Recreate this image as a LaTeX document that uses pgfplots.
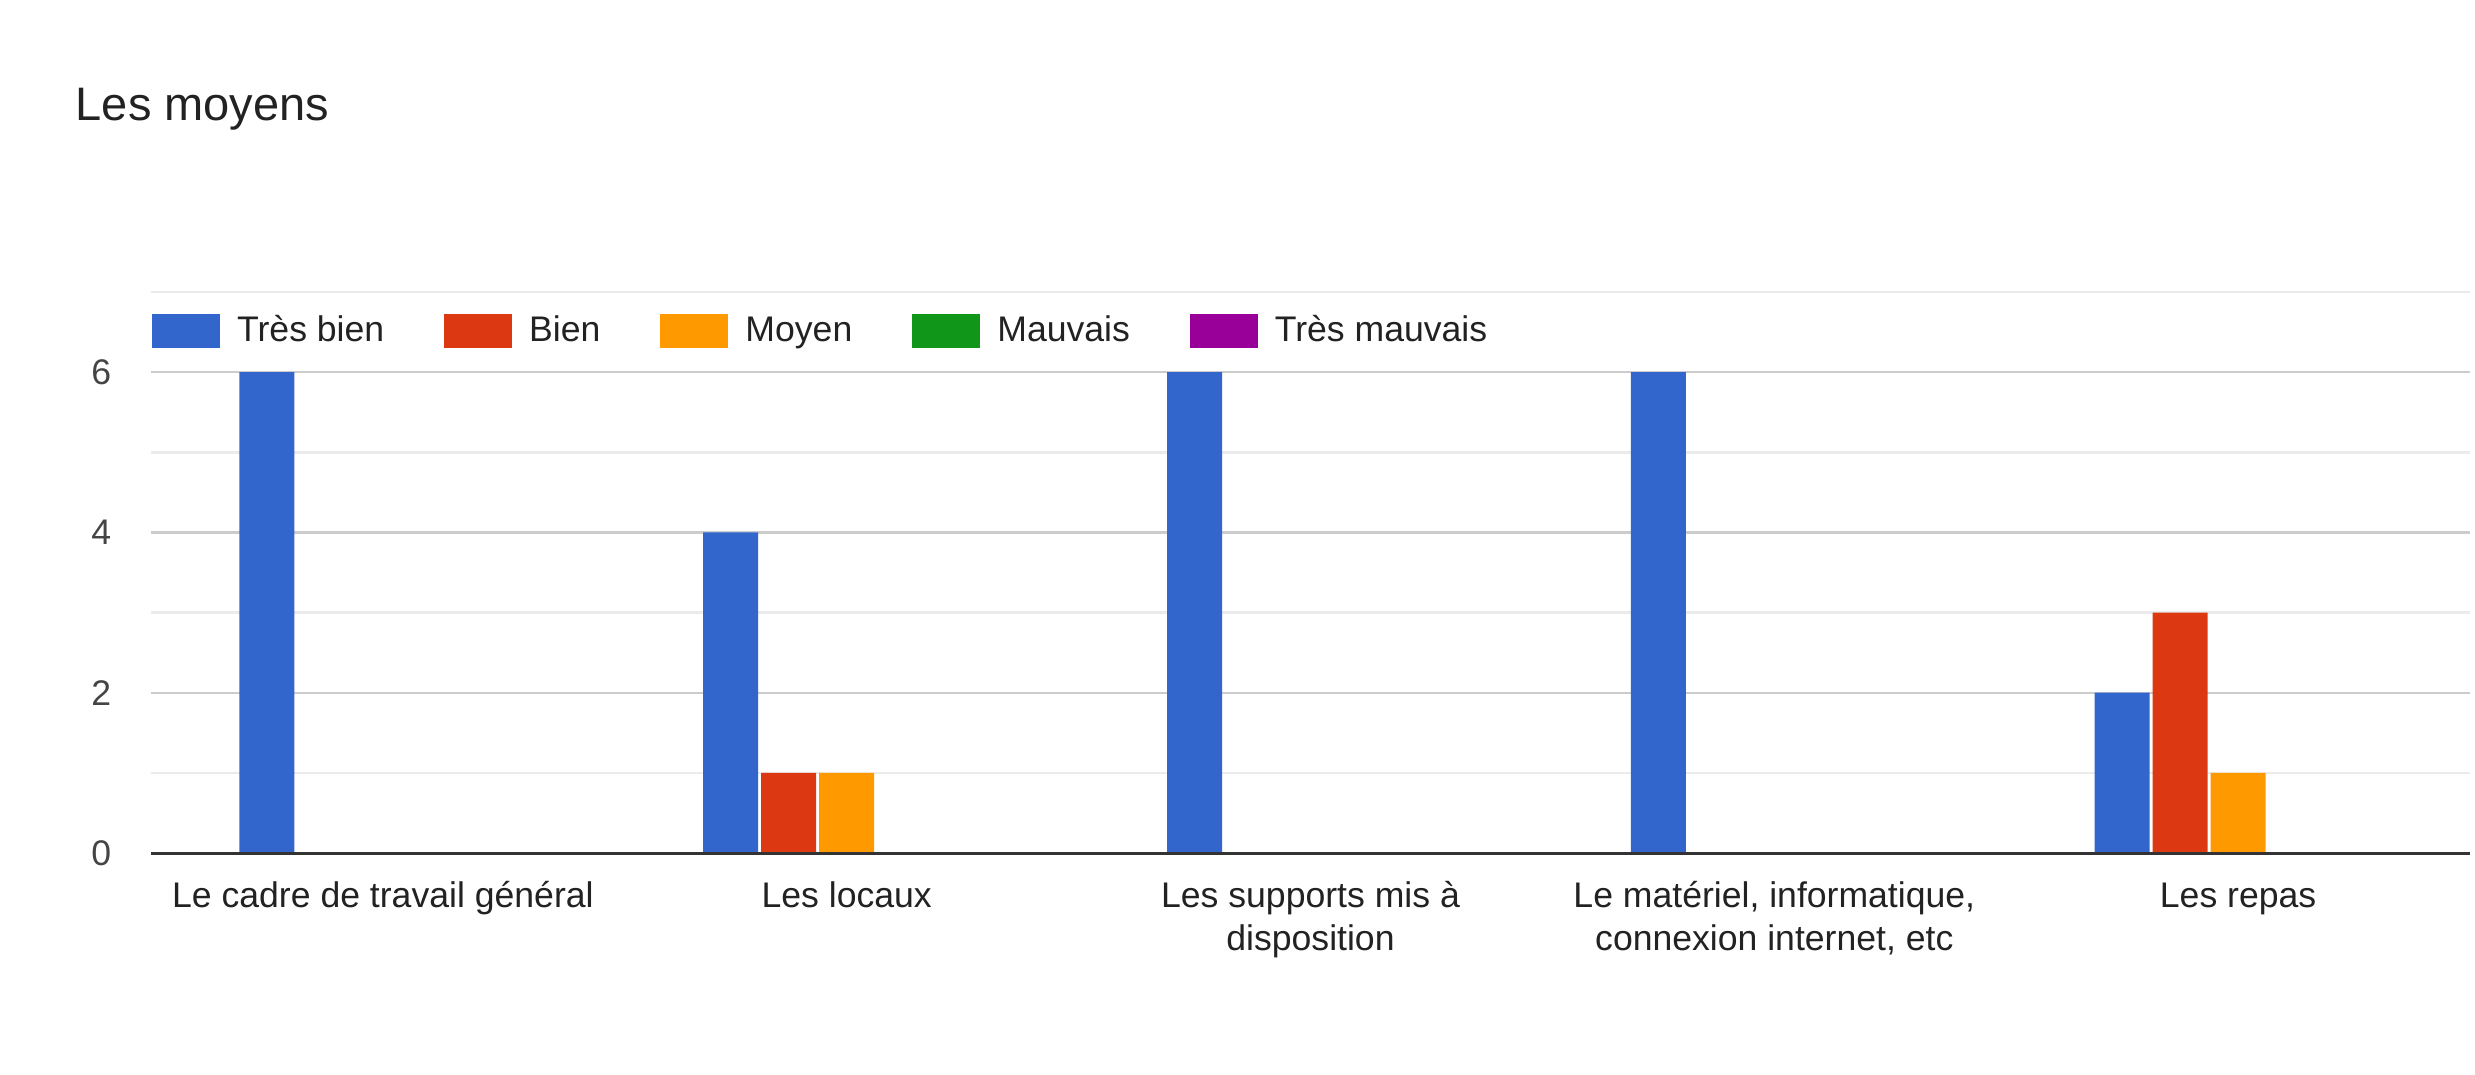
\documentclass[border=0pt]{standalone}
\usepackage{pgfplots}
\pgfplotsset{compat=1.18}
\usepackage{pgfplotstable}
\usepackage{fontspec}
\setmainfont{Liberation Sans}

\definecolor{cblue}{HTML}{3366CC}
\definecolor{cred}{HTML}{DC3912}
\definecolor{corange}{HTML}{FF9900}
\definecolor{cgreen}{HTML}{109618}
\definecolor{cpurple}{HTML}{990099}
\definecolor{ctext}{HTML}{222222}
\definecolor{ctick}{HTML}{444444}
\definecolor{cmajor}{HTML}{CCCCCC}
\definecolor{cminor}{HTML}{EBEBEB}
\definecolor{caxis}{HTML}{333333}

% x: 0 = cadre, 1 = locaux, 2 = supports, 3 = materiel, 4 = repas
\pgfplotstableread{
x tresbien bien moyen mauvais tresmauvais
0 6 0 0 0 0
1 4 1 1 0 0
2 6 0 0 0 0
3 6 0 0 0 0
4 2 3 1 0 0
}\moyens

% two-line tick label, baseline on its first line
\newcommand{\twolines}[2]{\begin{tabular}[t]{@{}c@{}}#1\\#2\end{tabular}}

\pgfplotsset{
  swatch/.style={draw=none, fill=#1,
    legend image code/.code={\fill[fill=#1] (0pt,-4.25pt) rectangle (17pt,4.25pt);}},
}

\begin{document}
\begin{tikzpicture}
  \path[use as bounding box] (0pt,0pt) rectangle (618.75pt,268.5pt);
  \node[anchor=base west, inner sep=0pt, font=\fontsize{11.75}{14}\selectfont, text=ctext]
    at (18.75pt,238.5pt) {Les moyens};
  \begin{axis}[
    at={(37.75pt,55.25pt)}, anchor=south west,
    scale only axis,
    width=579.75pt, height=140.25pt,
    ybar=0.75pt, bar width=13.75pt,
    xmin=-0.5, xmax=4.5,
    ymin=0, ymax=7,
    xtick={0,1,2,3,4},
    xticklabels={Le cadre de travail général, Les locaux,
      {\twolines{Les supports mis à}{disposition}},
      {\twolines{Le matériel, informatique,}{connexion internet, etc}}, Les repas},
    ytick={0,2,4,6},
    minor ytick={1,3,5,7},
    ymajorgrids, yminorgrids,
    major grid style={draw=cmajor, line width=0.6pt},
    minor grid style={draw=cminor, line width=0.6pt},
    major tick length=0pt, minor tick length=0pt,
    axis x line*=bottom, axis y line*=left,
    y axis line style={draw=none},
    x axis line style={draw=none},
    after end axis/.code={
      \draw[caxis, line width=0.75pt] (rel axis cs:0,0) -- (rel axis cs:1,0);
    },
    xticklabel style={anchor=base, inner sep=0pt, yshift=-13.5pt,
      font=\fontsize{8.9}{10.75}\selectfont, text=ctext},
    yticklabel style={anchor=east, inner sep=0pt, xshift=-9.75pt,
      font=\fontsize{8.9}{10.75}\selectfont, text=ctick},
    /pgf/number format/assume math mode=true,
    legend columns=-1,
    legend style={at={(0.0005,0.93)}, anchor=west, draw=none, fill=none,
      inner sep=0pt, outer sep=0pt,
      nodes={inner sep=0pt, text height=7pt, text depth=2pt,
        font=\fontsize{8.9}{10.75}\selectfont, text=ctext},
      /tikz/every odd column/.append style={column sep=4.25pt},
      /tikz/every even column/.append style={column sep=15pt}},
    legend cell align=left,
  ]
    \addplot[swatch=cblue] table[x=x, y=tresbien] {\moyens};
    \addlegendentry{Très bien}
    \addplot[swatch=cred] table[x=x, y=bien] {\moyens};
    \addlegendentry{Bien}
    \addplot[swatch=corange] table[x=x, y=moyen] {\moyens};
    \addlegendentry{Moyen}
    \addplot[swatch=cgreen] table[x=x, y=mauvais] {\moyens};
    \addlegendentry{Mauvais}
    \addplot[swatch=cpurple] table[x=x, y=tresmauvais] {\moyens};
    \addlegendentry{Très mauvais}
  \end{axis}
\end{tikzpicture}
\end{document}
